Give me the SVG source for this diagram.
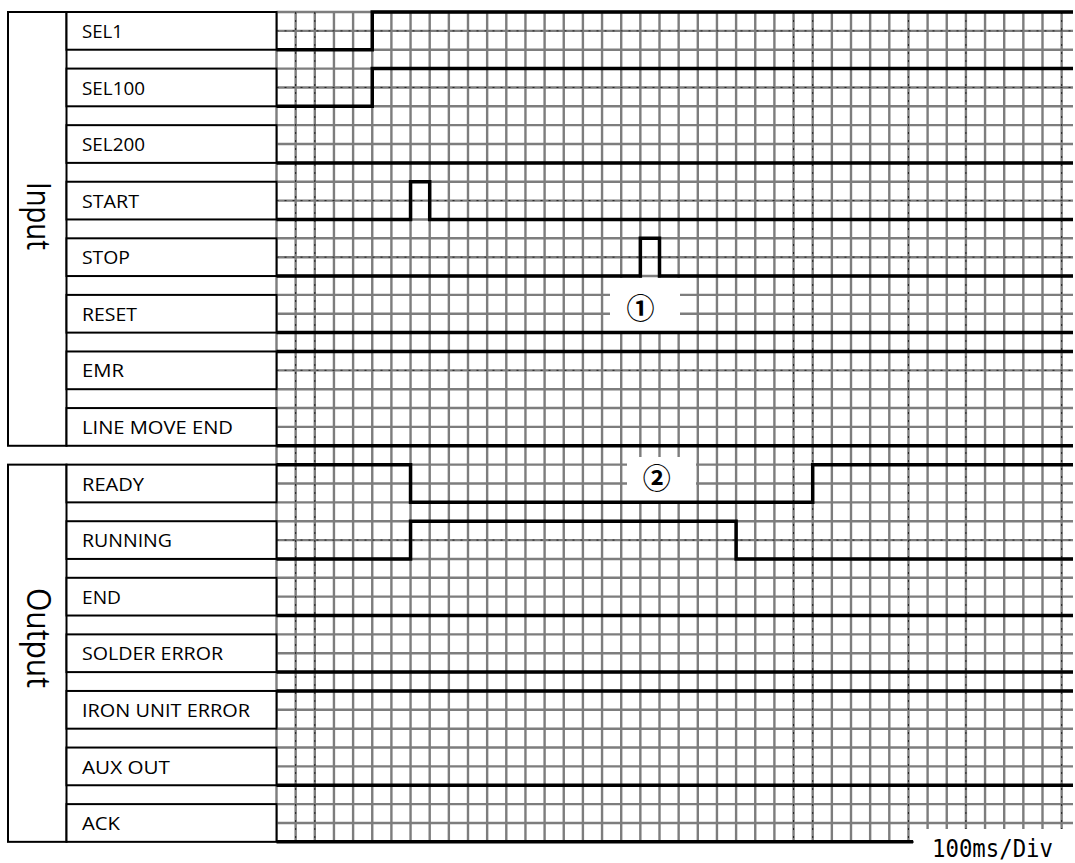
<svg xmlns="http://www.w3.org/2000/svg" width="1075" height="863" viewBox="0 0 1075 863">
<style>
.g{stroke:#7d7d7d;stroke-width:2.4;fill:none}
.d{stroke:#222;stroke-width:1;stroke-dasharray:2 6;fill:none}
.box{fill:#fff;stroke:#000;stroke-width:2}
.sig{fill:none;stroke:#000;stroke-width:3.5;stroke-linejoin:miter;stroke-linecap:butt}
.lbl{font-family:"Open Sans","Liberation Sans",sans-serif;font-size:19px;fill:#000}
.grp{font-family:"Open Sans","Liberation Sans",sans-serif;font-size:32px;fill:#000}
.mk{font-family:"Noto Sans CJK JP","DejaVu Sans",sans-serif;font-size:28px;font-weight:700;fill:#000}
.sc{font-family:"DejaVu Sans Mono","Liberation Mono",monospace;font-size:24px;fill:#000}
</style>
<rect x="0" y="0" width="1075" height="863" fill="#fff"/>
<g id="grid">
<path class="g" d="M276.5,12V841.84 M295.65,12V841.84 M314.8,12V841.84 M333.95,12V841.84 M353.1,12V841.84 M372.25,12V841.84 M391.4,12V841.84 M410.55,12V841.84 M429.7,12V841.84 M448.85,12V841.84 M468,12V841.84 M487.15,12V841.84 M506.3,12V841.84 M525.45,12V841.84 M544.6,12V841.84 M563.75,12V841.84 M582.9,12V841.84 M602.05,12V841.84 M621.2,12V841.84 M640.35,12V841.84 M659.5,12V841.84 M678.65,12V841.84 M697.8,12V841.84 M716.95,12V841.84 M736.1,12V841.84 M755.25,12V841.84 M774.4,12V841.84 M793.55,12V841.84 M812.7,12V841.84 M831.85,12V841.84 M851,12V841.84 M870.15,12V841.84 M889.3,12V841.84 M908.45,12V841.84 M927.6,12V841.84 M946.75,12V841.84 M965.9,12V841.84 M985.05,12V841.84 M1004.2,12V841.84 M1023.35,12V841.84 M1042.5,12V841.84 M1061.65,12V841.84"/>
<path class="g" d="M276.5,12H1073 M276.5,30.86H1073 M276.5,49.72H1073 M276.5,68.58H1073 M276.5,87.44H1073 M276.5,106.3H1073 M276.5,125.16H1073 M276.5,144.02H1073 M276.5,162.88H1073 M276.5,181.74H1073 M276.5,200.6H1073 M276.5,219.46H1073 M276.5,238.32H1073 M276.5,257.18H1073 M276.5,276.04H1073 M276.5,294.9H1073 M276.5,313.76H1073 M276.5,332.62H1073 M276.5,351.48H1073 M276.5,370.34H1073 M276.5,389.2H1073 M276.5,408.06H1073 M276.5,426.92H1073 M276.5,445.78H1073 M276.5,464.64H1073 M276.5,483.5H1073 M276.5,502.36H1073 M276.5,521.22H1073 M276.5,540.08H1073 M276.5,558.94H1073 M276.5,577.8H1073 M276.5,596.66H1073 M276.5,615.52H1073 M276.5,634.38H1073 M276.5,653.24H1073 M276.5,672.1H1073 M276.5,690.96H1073 M276.5,709.82H1073 M276.5,728.68H1073 M276.5,747.54H1073 M276.5,766.4H1073 M276.5,785.26H1073 M276.5,804.12H1073 M276.5,822.98H1073 M276.5,841.84H1073"/>
<path class="d" d="M276.5,30.86H1073 M276.5,87.44H1073 M276.5,200.6H1073 M276.5,257.18H1073 M276.5,370.34H1073 M276.5,540.08H1073 M295.65,12V841.84 M314.8,12V841.84 M793.55,12V841.84 M812.7,12V841.84 M908.45,12V841.84 M965.9,12V841.84 M1061.65,12V841.84"/>
</g>
<g id="masks">
<rect x="610" y="278" width="70" height="54" fill="#fff"/>
<rect x="627" y="457" width="69" height="45" fill="#fff"/>
<rect x="914" y="829" width="161" height="34" fill="#fff"/>
</g>
<g id="connectors">
<path class="sig" d="M276.5,49.72H372.25V12H1073"/>
<path class="sig" d="M276.5,106.3H372.25V68.58H1073"/>
<path class="sig" d="M276.5,162.88H1073"/>
<path class="sig" d="M276.5,219.46H410.55V181.74H429.7V219.46H1073"/>
<path class="sig" d="M276.5,276.04H640.35V238.32H659.5V276.04H1073"/>
<path class="sig" d="M276.5,332.62H1073"/>
<path class="sig" d="M276.5,351.48H1073"/>
<path class="sig" d="M276.5,445.78H1073"/>
<path class="sig" d="M276.5,464.64H410.55V502.36H812.7V464.64H1073"/>
<path class="sig" d="M276.5,558.94H410.55V521.22H736.1V558.94H1073"/>
<path class="sig" d="M276.5,615.52H1073"/>
<path class="sig" d="M276.5,672.1H1073"/>
<path class="sig" d="M276.5,690.96H1073"/>
<path class="sig" d="M276.5,785.26H1073"/>
<path class="sig" d="M276.5,841.84H913"/>
</g>
<g id="group-input">
<rect class="box" x="8" y="12" width="58.5" height="433.78"/>
<text class="grp" transform="translate(27,216) rotate(90)" text-anchor="middle" textLength="68" lengthAdjust="spacingAndGlyphs">Input</text>
</g>
<g id="group-output">
<rect class="box" x="8" y="464.64" width="58.5" height="377.2"/>
<text class="grp" transform="translate(27,638) rotate(90)" text-anchor="middle" textLength="100" lengthAdjust="spacingAndGlyphs">Output</text>
</g>
<g id="n-sel1"><rect class="box" x="66.5" y="12" width="210" height="37.72"/><text class="lbl" x="82" y="38" textLength="41" lengthAdjust="spacingAndGlyphs">SEL1</text></g>
<g id="n-sel100"><rect class="box" x="66.5" y="68.58" width="210" height="37.72"/><text class="lbl" x="82" y="94.58" textLength="63" lengthAdjust="spacingAndGlyphs">SEL100</text></g>
<g id="n-sel200"><rect class="box" x="66.5" y="125.16" width="210" height="37.72"/><text class="lbl" x="82" y="151.16" textLength="63" lengthAdjust="spacingAndGlyphs">SEL200</text></g>
<g id="n-start"><rect class="box" x="66.5" y="181.74" width="210" height="37.72"/><text class="lbl" x="82" y="207.74" textLength="57" lengthAdjust="spacingAndGlyphs">START</text></g>
<g id="n-stop"><rect class="box" x="66.5" y="238.32" width="210" height="37.72"/><text class="lbl" x="82" y="264.32" textLength="48" lengthAdjust="spacingAndGlyphs">STOP</text></g>
<g id="n-reset"><rect class="box" x="66.5" y="294.9" width="210" height="37.72"/><text class="lbl" x="82" y="320.9" textLength="55" lengthAdjust="spacingAndGlyphs">RESET</text></g>
<g id="n-emr"><rect class="box" x="66.5" y="351.48" width="210" height="37.72"/><text class="lbl" x="82" y="377.48" textLength="42" lengthAdjust="spacingAndGlyphs">EMR</text></g>
<g id="n-lme"><rect class="box" x="66.5" y="408.06" width="210" height="37.72"/><text class="lbl" x="82" y="434.06" textLength="151" lengthAdjust="spacingAndGlyphs">LINE MOVE END</text></g>
<g id="n-ready"><rect class="box" x="66.5" y="464.64" width="210" height="37.72"/><text class="lbl" x="82" y="490.64" textLength="62" lengthAdjust="spacingAndGlyphs">READY</text></g>
<g id="n-running"><rect class="box" x="66.5" y="521.22" width="210" height="37.72"/><text class="lbl" x="82" y="547.22" textLength="90" lengthAdjust="spacingAndGlyphs">RUNNING</text></g>
<g id="n-end"><rect class="box" x="66.5" y="577.8" width="210" height="37.72"/><text class="lbl" x="82" y="603.8" textLength="39" lengthAdjust="spacingAndGlyphs">END</text></g>
<g id="n-solder"><rect class="box" x="66.5" y="634.38" width="210" height="37.72"/><text class="lbl" x="82" y="660.38" textLength="141" lengthAdjust="spacingAndGlyphs">SOLDER ERROR</text></g>
<g id="n-iron"><rect class="box" x="66.5" y="690.96" width="210" height="37.72"/><text class="lbl" x="82" y="716.96" textLength="168" lengthAdjust="spacingAndGlyphs">IRON UNIT ERROR</text></g>
<g id="n-aux"><rect class="box" x="66.5" y="747.54" width="210" height="37.72"/><text class="lbl" x="82" y="773.54" textLength="88" lengthAdjust="spacingAndGlyphs">AUX OUT</text></g>
<g id="n-ack"><rect class="box" x="66.5" y="804.12" width="210" height="37.72"/><text class="lbl" x="82" y="830.12" textLength="38" lengthAdjust="spacingAndGlyphs">ACK</text></g>
<g id="marks">
<text class="mk" x="640.5" y="318.5" text-anchor="middle">①</text>
<text class="mk" x="656.7" y="488.5" text-anchor="middle">②</text>
<text class="sc" x="932" y="857" textLength="121" lengthAdjust="spacingAndGlyphs">100ms/Div</text>
</g>
</svg>
